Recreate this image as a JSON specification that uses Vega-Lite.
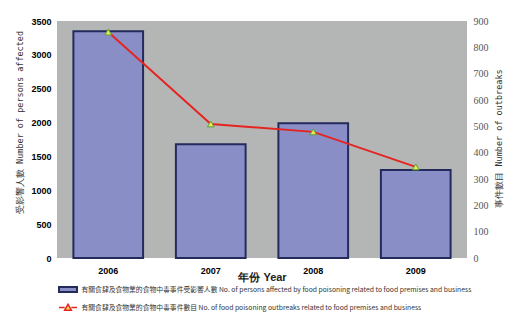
{
  "$schema": "https://vega.github.io/schema/vega-lite/v6.json",
  "width": 410,
  "height": 237,
  "autosize": {"type": "none"},
  "padding": {"left": 57, "top": 21, "right": 53, "bottom": 64},
  "background": "white",
  "config": {
    "view": {"fill": "#b4b6b6", "stroke": null},
    "axis": {"grid": false, "domain": false, "ticks": false},
    "legend": {"labelFont": "Noto Sans CJK TC", "labelFontSize": 6.8, "labelColor": "#333", "labelLimit": 0}
  },
  "data": {
    "values": [
      {"year": "2006", "persons": 3350, "outbreaks": 858},
      {"year": "2007", "persons": 1680, "outbreaks": 509},
      {"year": "2008", "persons": 1990, "outbreaks": 479},
      {"year": "2009", "persons": 1300, "outbreaks": 346}
    ]
  },
  "encoding": {
    "x": {
      "field": "year",
      "type": "nominal",
      "scale": {"paddingInner": 0.32, "paddingOuter": 0.16},
      "axis": {
        "title": "年份 Year",
        "labelAngle": 0,
        "labelFont": "Liberation Sans",
        "labelFontWeight": "bold",
        "labelFontSize": 9,
        "labelColor": "#000",
        "labelPadding": 8,
        "titleFont": "Liberation Sans",
        "titleFontSize": 11,
        "titleFontWeight": "bold",
        "titleColor": "#222",
        "titleBaseline": "alphabetic",
        "titleY": 22
      }
    }
  },
  "layer": [
    {
      "mark": {"type": "bar", "stroke": "#252a5c", "strokeWidth": 2},
      "encoding": {
        "y": {
          "field": "persons",
          "type": "quantitative",
          "scale": {"domain": [0, 3500]},
          "axis": {
            "orient": "left",
            "format": "d",
            "values": [0, 500, 1000, 1500, 2000, 2500, 3000, 3500],
            "title": "受影響人數 Number of persons affected",
            "labelFont": "Liberation Sans",
            "labelFontWeight": "bold",
            "labelFontSize": 9,
            "labelColor": "#000",
            "labelPadding": 6,
            "titleFont": "DejaVu Sans Mono",
            "titleFontSize": 8.5,
            "titleFontWeight": "normal",
            "titleColor": "#333",
            "titlePadding": 6,
            "titleY": 101
          }
        },
        "fill": {
          "datum": "有關食肆及食物業的食物中毒事件受影響人數 No. of persons affected by food poisoning related to food premises and business",
          "scale": {"range": ["#8a8ec6"]},
          "legend": {
            "title": null,
            "orient": "none",
            "legendX": -3,
            "legendY": 264,
            "padding": 0,
            "symbolSize": 49,
            "symbolType": "M-2.57,-0.72H2.57V0.72H-2.57Z",
            "symbolStrokeColor": "#252a5c",
            "symbolStrokeWidth": 2,
            "symbolOffset": 9.5,
            "labelOffset": 9
          }
        }
      }
    },
    {
      "encoding": {
        "y": {
          "field": "outbreaks",
          "type": "quantitative",
          "scale": {"domain": [0, 900]},
          "axis": {
            "orient": "right",
            "values": [0, 100, 200, 300, 400, 500, 600, 700, 800, 900],
            "title": "事件數目 Number of outbreaks",
            "titleAngle": 270,
            "titleAlign": "center",
            "titleBaseline": "middle",
            "titleX": 31,
            "titleY": 117,
            "labelFont": "Liberation Serif",
            "labelFontSize": 10,
            "labelColor": "#555",
            "labelPadding": 6,
            "titleFont": "DejaVu Sans Mono",
            "titleFontSize": 8.5,
            "titleFontWeight": "normal",
            "titleColor": "#333"
          }
        }
      },
      "layer": [
        {
          "mark": {"type": "line", "strokeWidth": 2, "stroke": "#e52421"}
        },
        {
          "mark": {"type": "point", "shape": "triangle-up", "filled": true, "stroke": "#5c9e3a", "strokeWidth": 1, "size": 45, "opacity": 1},
          "encoding": {
            "fill": {
              "datum": "有關食肆及食物業的食物中毒事件數目 No. of food poisoning outbreaks related to food premises and business",
              "scale": {"range": ["#e6ec52"]},
              "legend": {
                "title": null,
                "orient": "none",
                "legendX": -3,
                "legendY": 282,
                "padding": 0,
                "symbolSize": 49,
                "symbolType": "M-2.57,0H-0.95M0.95,0H2.57M-0.95,0.75L0,-0.9L0.95,0.75Z",
                "symbolStrokeColor": "#e52421",
                "symbolStrokeWidth": 1.5,
                "symbolOffset": 9.5,
                "labelOffset": 9
              }
            }
          }
        }
      ]
    }
  ],
  "resolve": {"scale": {"y": "independent", "fill": "independent"}}
}
